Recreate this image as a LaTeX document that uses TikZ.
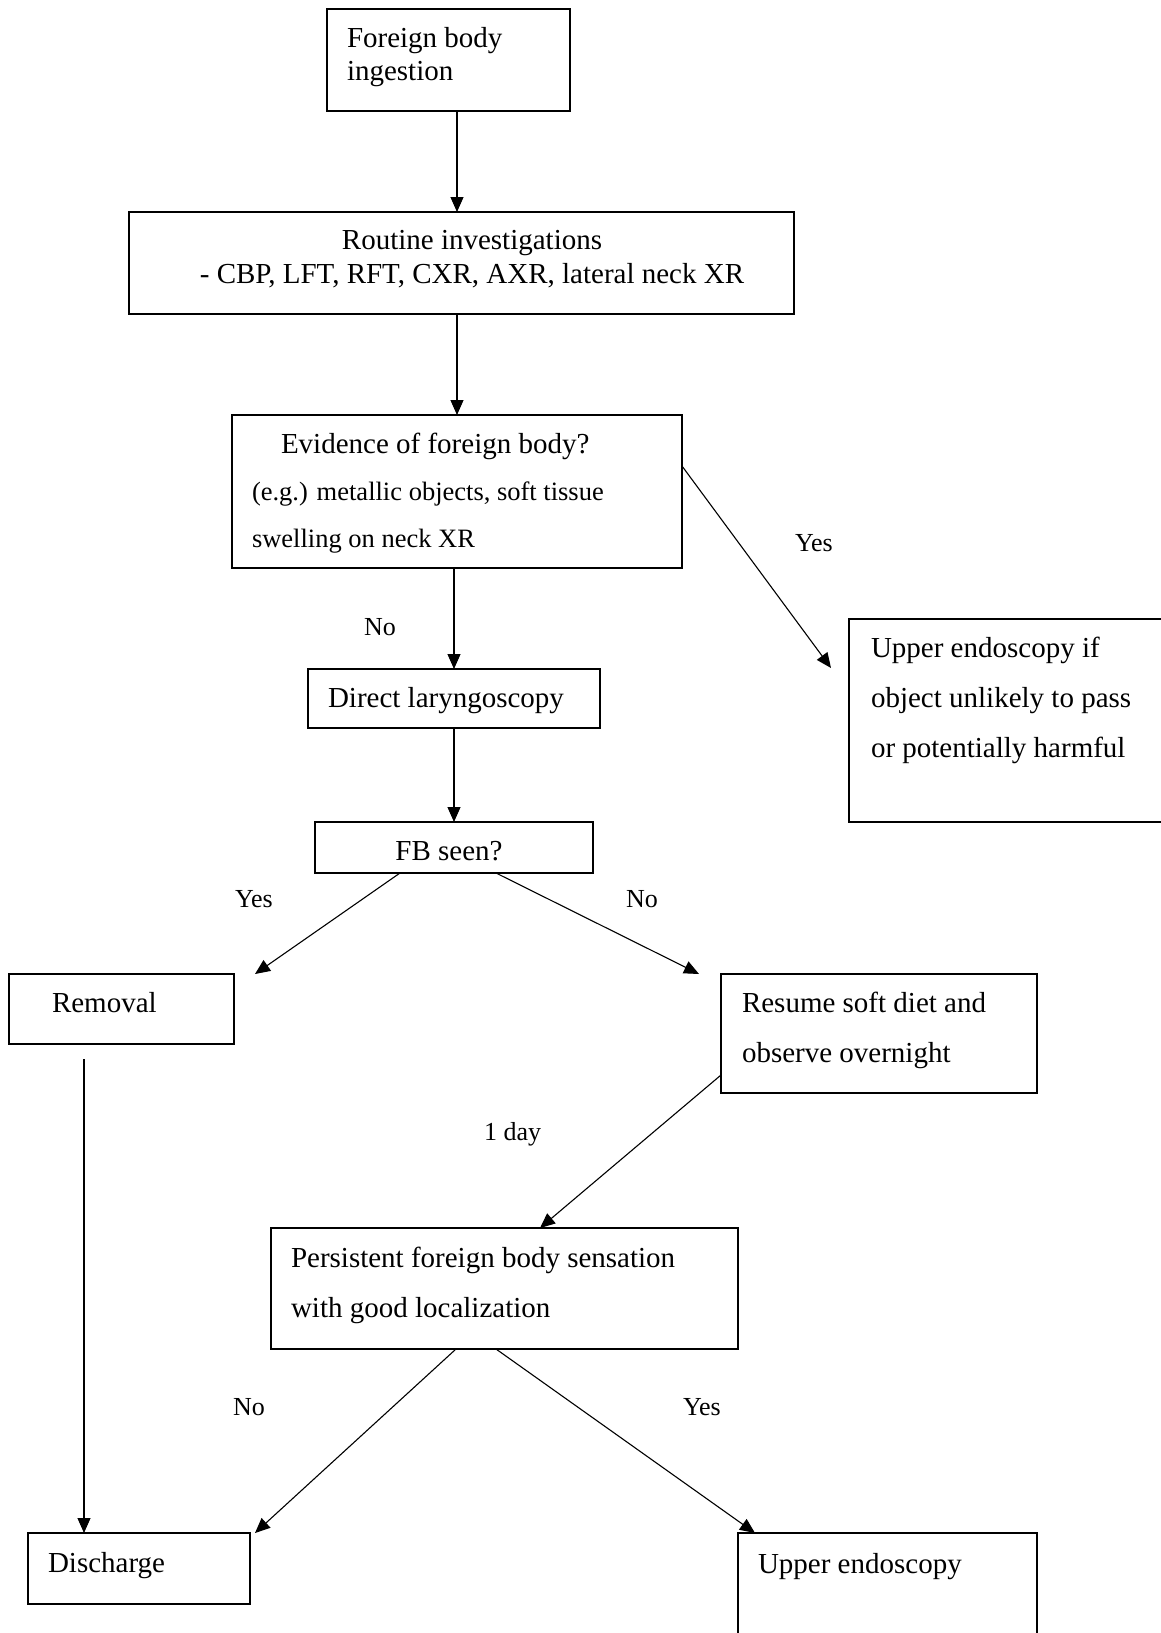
\documentclass[tikz,border=0pt]{standalone}
\usepackage{fontspec}
\setmainfont{Liberation Serif}
\usetikzlibrary{arrows.meta,calc}
\tikzset{
  box/.style={draw, line width=1.5pt, anchor=north west, inner sep=0pt, outer sep=0pt},
  txt/.style={anchor=base west, inner sep=0pt, outer sep=0pt, font=\fontsize{29}{34}\selectfont},
  ctxt/.style={anchor=base, inner sep=0pt, outer sep=0pt, font=\fontsize{29}{34}\selectfont},
  stxt/.style={anchor=base west, inner sep=0pt, outer sep=0pt, font=\fontsize{26.5}{30}\selectfont},
  lbl/.style={anchor=west, inner sep=0pt, outer sep=0pt, font=\fontsize{26}{30}\selectfont},
  arr/.style={line width=1.1pt, -{Triangle[length=15pt,width=13pt]}},
  ln/.style={line width=1.1pt}
}
\begin{document}
\begin{tikzpicture}[x=1pt,y=-1pt]
\useasboundingbox[fill=white] (0,0) rectangle (1160,1633);
% boxes
\node[box, minimum width=243pt, minimum height=102pt] (b1) at (327,9) {};
\node[box, minimum width=665pt, minimum height=102pt] (b2) at (129,212) {};
\node[box, minimum width=450pt, minimum height=153pt] (b3) at (232,415) {};
\node[box, minimum width=292pt, minimum height=59pt] (b4) at (308,669) {};
\node[box, minimum width=278pt, minimum height=51pt] (b5) at (315,822) {};
\node[box, minimum width=330pt, minimum height=203pt] (b6) at (849,619) {};
\node[box, minimum width=225pt, minimum height=70pt] (rem) at (9,974) {};
\node[box, minimum width=316pt, minimum height=119pt] (res) at (721,974) {};
\node[box, minimum width=467pt, minimum height=121pt] (pers) at (271,1228) {};
\node[box, minimum width=222pt, minimum height=71pt] (dis) at (28,1533) {};
\node[box, minimum width=299pt, minimum height=130pt] (ue) at (738,1533) {};
% texts
\node[txt] (t1a) at (347,47) {Foreign body};
\node[txt] (t1b) at (347,80) {ingestion};
\node[ctxt] (t2a) at (472,249) {Routine investigations};
\node[ctxt] (t2b) at (472,283) {- CBP, LFT, RFT, CXR, AXR, lateral neck XR};
\node[txt] (t3a) at (281,453) {Evidence of foreign body?};
\node[stxt] (t3b) at (252,500) {(e.g.) metallic objects, soft tissue};
\node[stxt] (t3c) at (252,547) {swelling on neck XR};
\node[txt] (t4) at (328,707) {Direct laryngoscopy};
\node[ctxt] (t5) at (449,860) {FB seen?};
\node[txt] (t6a) at (871,657) {Upper endoscopy if};
\node[txt] (t6b) at (871,707) {object unlikely to pass};
\node[txt] (t6c) at (871,757) {or potentially harmful};
\node[txt] (t7) at (52,1012) {Removal};
\node[txt] (t8a) at (742,1012) {Resume soft diet and};
\node[txt] (t8b) at (742,1062) {observe overnight};
\node[txt] (t9a) at (291,1267) {Persistent foreign body sensation};
\node[txt] (t9b) at (291,1317) {with good localization};
\node[txt] (t10) at (48,1572) {Discharge};
\node[txt] (t11) at (758,1573) {Upper endoscopy};
% labels
\node[lbl] (l1) at (364,627) {No};
\node[lbl] (l2) at (795,543) {Yes};
\node[lbl] (l3) at (235,899) {Yes};
\node[lbl] (l4) at (626,899) {No};
\node[lbl] (l5) at (484,1134) {1 day};
\node[lbl] (l6) at (233,1407) {No};
\node[lbl] (l7) at (683,1407) {Yes};
% connectors
\draw[arr] (b1.south -| b3.north) -- (b2.north -| b3.north);
\draw[arr] (b2.south -| b3.north) -- (b3.north);
\draw[arr] (b3.south -| b4.north) -- (b4.north);
\draw[arr] (b4.south) -- (b5.north -| b4.south);
\draw[arr] ($(b3.north east)+(0,51)$) -- ($(b6.north west)+(-18,49)$);
\draw[arr] ($(b5.south west)+(85,0)$) -- ($(rem.north east)+(21,0)$);
\draw[arr] ($(b5.south west)+(181,0)$) -- ($(res.north west)+(-22,0)$);
\coordinate (remout) at ($(rem.south west)+(75,15)$);
\draw[arr] (remout) -- ($(dis.north west)+(56,0)$);
\draw[arr] ($(res.north west)+(0,101)$) -- ($(pers.north west)+(269,0)$);
\draw[arr] ($(pers.south west)+(185,0)$) -- ($(dis.north east)+(5,0)$);
\draw[arr] ($(pers.south west)+(225,0)$) -- ($(ue.north west)+(17,0)$);
\end{tikzpicture}
\end{document}
